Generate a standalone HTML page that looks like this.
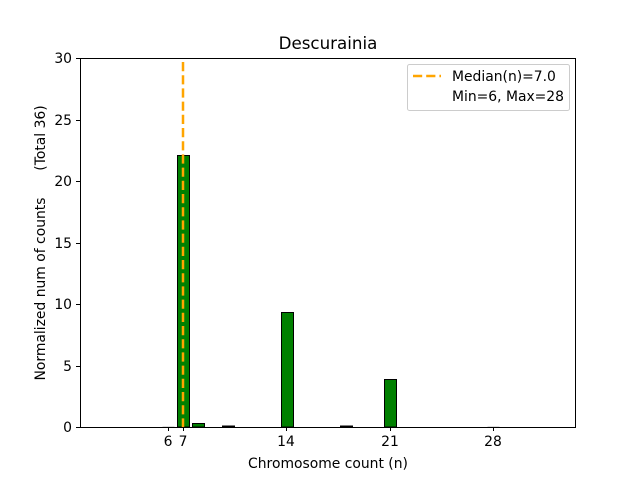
<!DOCTYPE html>
<html><head><meta charset="utf-8"><style>body{margin:0;background:#fff}svg{display:block}text{font-family:"DejaVu Sans","Liberation Sans",sans-serif;fill:#000}</style></head><body>
<svg width="640" height="480" viewBox="0 0 640 480" xmlns="http://www.w3.org/2000/svg">
<rect width="640" height="480" fill="#fff"/>
<g stroke="#bbb" stroke-width="1" fill="none">
<line x1="162.5" y1="427" x2="174.5" y2="427"/>
<line x1="487.5" y1="427" x2="499.5" y2="427"/>
</g>
<g fill="#008000" stroke="#000" stroke-width="1">
<rect x="177.5" y="155.5" width="12" height="271.5"/>
<rect x="192.5" y="423.5" width="12" height="3.5"/>
<rect x="222.5" y="426" width="12" height="1"/>
<rect x="281.5" y="312.5" width="12" height="114.5"/>
<rect x="340.5" y="426" width="12" height="1"/>
<rect x="384.5" y="379.5" width="12" height="47.5"/>
</g>
<line x1="183" y1="62" x2="183" y2="427" stroke="#ffa500" stroke-width="2.5" stroke-dasharray="9.2,4"/>
<rect x="80.5" y="58.5" width="495" height="369" fill="none" stroke="#000" stroke-width="1"/>
<g stroke="#000" stroke-width="1">
<line x1="80" y1="427.5" x2="76" y2="427.5"/><line x1="80" y1="366.5" x2="76" y2="366.5"/><line x1="80" y1="304.5" x2="76" y2="304.5"/><line x1="80" y1="243.5" x2="76" y2="243.5"/><line x1="80" y1="181.5" x2="76" y2="181.5"/><line x1="80" y1="120.5" x2="76" y2="120.5"/><line x1="80" y1="58.5" x2="76" y2="58.5"/>
<line x1="168.5" y1="427" x2="168.5" y2="431"/><line x1="183.5" y1="427" x2="183.5" y2="431"/><line x1="286.5" y1="427" x2="286.5" y2="431"/><line x1="390.5" y1="427" x2="390.5" y2="431"/><line x1="493.5" y1="427" x2="493.5" y2="431"/>
</g>
<g font-size="13.9" text-anchor="end">
<text x="72" y="432">0</text><text x="72" y="371">5</text><text x="72" y="309">10</text><text x="72" y="248">15</text><text x="72" y="186">20</text><text x="72" y="125">25</text><text x="72" y="63">30</text>
</g>
<g font-size="13.9" text-anchor="middle">
<text x="168" y="446">6</text><text x="183" y="446">7</text><text x="286" y="446">14</text><text x="390" y="446">21</text><text x="493" y="446">28</text>
<text x="328" y="468">Chromosome count (n)</text>
</g>
<text x="328" y="49" font-size="16.7" text-anchor="middle">Descurainia</text>
<text transform="translate(45,289) rotate(-90)" font-size="13.9" text-anchor="middle">Normalized num of counts</text>
<text transform="translate(45,138) rotate(-90)" font-size="13.9" text-anchor="middle">(Total 36)</text>
<rect x="407.5" y="64.5" width="162" height="46" rx="2" fill="#fff" stroke="#ccc" stroke-width="1"/>
<line x1="413" y1="76" x2="441" y2="76" stroke="#ffa500" stroke-width="2.5" stroke-dasharray="9.2,4"/>
<text x="452" y="81" font-size="13.9">Median(n)=7.0</text>
<text x="452" y="101" font-size="13.9">Min=6, Max=28</text>
</svg>
</body></html>
